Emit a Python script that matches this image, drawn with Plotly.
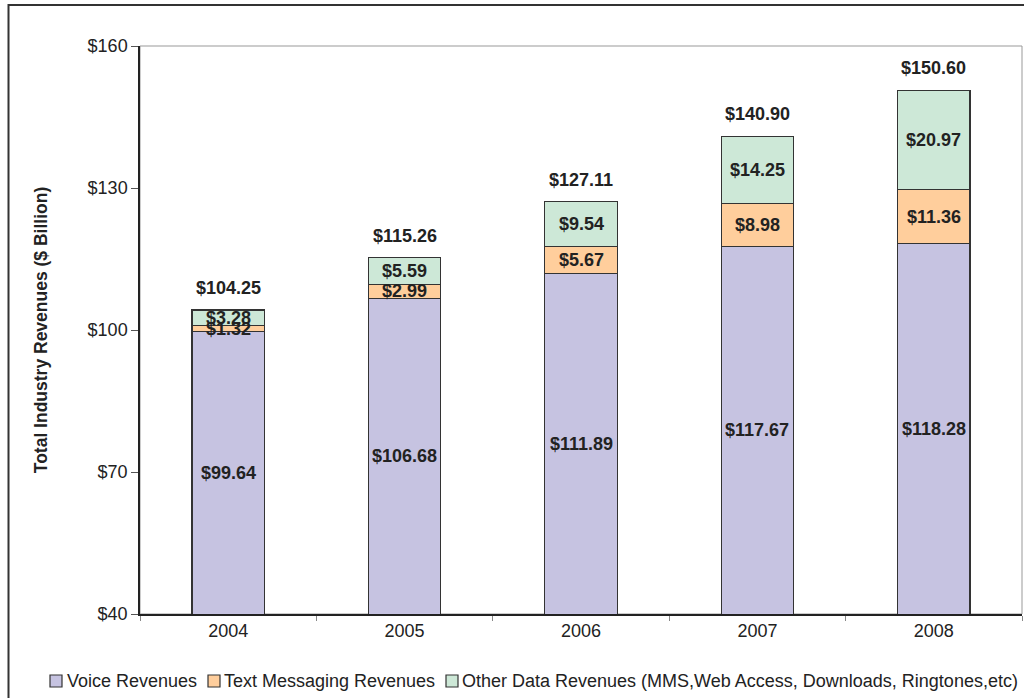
import plotly.graph_objects as go

# Wireless industry revenue breakdown, $ billion
years = ["2004", "2005", "2006", "2007", "2008"]
voice = [99.64, 106.68, 111.89, 117.67, 118.28]
text_msg = [1.32, 2.99, 5.67, 8.98, 11.36]
other_data = [3.28, 5.59, 9.54, 14.25, 20.97]
totals = [104.25, 115.26, 127.11, 140.90, 150.60]

series_names = [
    "Voice Revenues",
    "Text Messaging Revenues",
    "Other Data Revenues (MMS,Web Access, Downloads, Ringtones,etc)",
]
colors = ["#C6C3E1", "#FFCE9C", "#CDE8D7"]

Y_MIN, Y_MAX = 40, 160
FONT = "Liberation Sans, Arial, sans-serif"

# plot area in pixels
W, H = 1024, 698
L, R, T, B = 140, 2, 46, 84
PW, PH = W - L - R, H - T - B


def px_x(px):
    return (px - L) / PW


def px_y(py):
    return (H - B - py) / PH


fig = go.Figure()
for name, vals, col in zip(series_names, [voice, text_msg, other_data], colors):
    fig.add_trace(go.Bar(
        x=years, y=vals, name=name,
        marker=dict(color=col, line=dict(color="#333333", width=1.2)),
        showlegend=False, hoverinfo="x+y+name",
    ))

annotations = []
lab_font = dict(family=FONT, size=18, color="#222222")
for i, yr in enumerate(years):
    v, t, o = voice[i], text_msg[i], other_data[i]
    # category index used as the x position of each label
    # voice label sits in the middle of the visible part of the bar
    annotations.append(dict(x=i, y=(max(Y_MIN, 0) + v) / 2, text=f"<b>${v:.2f}</b>",
                            showarrow=False, font=lab_font))
    annotations.append(dict(x=i, y=v + t / 2, text=f"<b>${t:.2f}</b>",
                            showarrow=False, font=lab_font))
    annotations.append(dict(x=i, y=v + t + o / 2, text=f"<b>${o:.2f}</b>",
                            showarrow=False, font=lab_font))
    annotations.append(dict(x=i, y=totals[i], text=f"<b>${totals[i]:.2f}</b>",
                            showarrow=False, font=lab_font, yshift=22))

# hand-built legend row along the bottom
legend_sq = [50, 208, 446]
legend_tx = [65, 222, 460]
legend_y = 681
shapes = []
for sq, tx, name, col in zip(legend_sq, legend_tx, series_names, colors):
    shapes.append(dict(type="rect", xref="paper", yref="paper",
                       x0=px_x(sq), x1=px_x(sq + 12),
                       y0=px_y(legend_y + 6), y1=px_y(legend_y - 6),
                       fillcolor=col, line=dict(color="#333333", width=1.2)))
    annotations.append(dict(xref="paper", yref="paper", x=px_x(tx), y=px_y(legend_y),
                            xanchor="left", yanchor="middle", text=name, showarrow=False,
                            font=dict(family=FONT, size=18, color="#222222")))

# light frame on top/right of the plot area
shapes.append(dict(type="rect", xref="paper", yref="paper", x0=0, x1=1, y0=0, y1=1,
                   line=dict(color="#999999", width=1), layer="below"))
# outer chart border
shapes.append(dict(type="rect", xref="paper", yref="paper",
                   x0=px_x(8.5), x1=px_x(1100), y0=px_y(760), y1=px_y(5),
                   line=dict(color="#333333", width=2), layer="below"))

fig.update_layout(
    barmode="stack",
    bargap=0.59,
    width=W, height=H,
    margin=dict(l=L, r=R, t=T, b=B),
    paper_bgcolor="white", plot_bgcolor="white",
    font=dict(family=FONT, size=18, color="#222222"),
    annotations=annotations,
    shapes=shapes,
    showlegend=False,
)
fig.update_xaxes(
    type="category", range=[-0.5, len(years) - 0.5], autorange=False,
    showgrid=False, showline=True, linecolor="#222222", linewidth=1.5,
    ticks="outside", tickson="boundaries", ticklen=5, tickcolor="#888888",
    tickfont=dict(family=FONT, size=18, color="#222222"),
)
fig.update_yaxes(
    range=[Y_MIN, Y_MAX], autorange=False, dtick=30, tick0=40, tickprefix="$",
    showgrid=False, showline=True, linecolor="#222222", linewidth=1.5, zeroline=False,
    ticks="outside", ticklen=7, tickcolor="#555555",
    tickfont=dict(family=FONT, size=18, color="#222222"),
    title=dict(text="<b>Total Industry Revenues ($ Billion)</b>",
               font=dict(family=FONT, size=17.5, color="#222222"), standoff=35),
)

fig.write_html("out.html")
